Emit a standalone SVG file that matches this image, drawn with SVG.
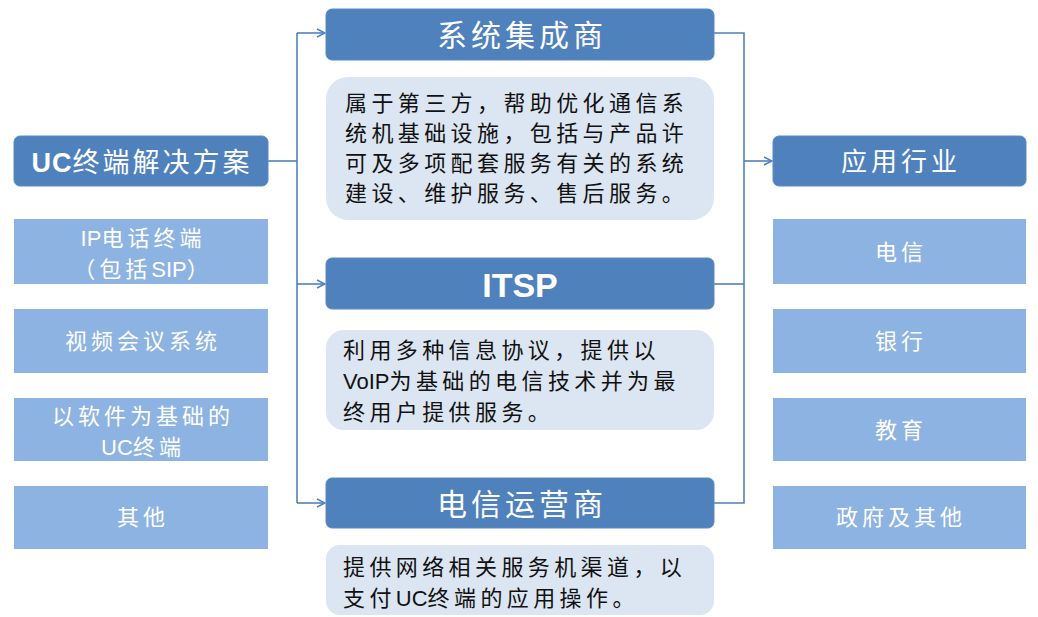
<svg xmlns="http://www.w3.org/2000/svg" width="1038" height="617" viewBox="0 0 1038 617">
<defs>
<style>
.hdr{fill:#4F81BD;stroke:#5A8AC6;stroke-width:1}
.lst{fill:#8DB3E2}
.dsc{fill:#DCE6F2}
.ht{font-family:"Liberation Sans","Noto Sans CJK SC",sans-serif;fill:#fff;text-anchor:middle}
.lt{font-family:"Liberation Sans","Noto Sans CJK SC",sans-serif;fill:#fff;font-size:22px;letter-spacing:4px;text-anchor:middle}
.dt{font-family:"Liberation Sans","Noto Sans CJK SC",sans-serif;fill:#111;font-size:22px;letter-spacing:4.4px}
.la{letter-spacing:0}
.ln{fill:none;stroke:#4F81BD;stroke-width:1.6}
</style>
<marker id="arr" viewBox="0 0 10 10" refX="9" refY="5" markerWidth="10" markerHeight="10" markerUnits="userSpaceOnUse" orient="auto">
<path d="M1,1 L9,5 L1,9" fill="none" stroke="#4F81BD" stroke-width="1.4"/>
</marker>
</defs>
<rect width="1038" height="617" fill="#fff"/>

<g id="connectors">
<path class="ln" d="M268,161 H297"/>
<path class="ln" d="M297,33 V503"/>
<path class="ln" d="M297,33 H325" marker-end="url(#arr)"/>
<path class="ln" d="M297,284 H325" marker-end="url(#arr)"/>
<path class="ln" d="M297,503 H325" marker-end="url(#arr)"/>
<path class="ln" d="M714,33 H744 V503 H714"/>
<path class="ln" d="M714,284 H744"/>
<path class="ln" d="M744,161 H772" marker-end="url(#arr)"/>
</g>

<g id="uc-solution">
<rect class="hdr" x="14" y="136" width="254" height="50" rx="6"/>
<text class="ht" x="142" y="172" font-size="27" letter-spacing="3"><tspan font-weight="bold" letter-spacing="1">UC</tspan>终端解决方案</text>
</g>
<g id="ip-phone">
<rect class="lst" x="14" y="219" width="254" height="65"/>
<text class="lt" x="143" y="246"><tspan class="la">IP</tspan>电话终端</text>
<text class="lt" x="143" y="277">（包括<tspan class="la">SIP</tspan>）</text>
</g>
<g id="video-conf">
<rect class="lst" x="14" y="309" width="254" height="64"/>
<text class="lt" x="143" y="349">视频会议系统</text>
</g>
<g id="soft-uc">
<rect class="lst" x="14" y="398" width="254" height="63"/>
<text class="lt" x="143" y="424">以软件为基础的</text>
<text class="lt" x="143" y="455"><tspan class="la">UC</tspan>终端</text>
</g>
<g id="other-left">
<rect class="lst" x="14" y="486" width="254" height="63"/>
<text class="lt" x="143" y="525">其他</text>
</g>

<g id="integrator">
<rect class="hdr" x="326" y="9" width="388" height="51" rx="6"/>
<text class="ht" x="522" y="46" font-size="30" letter-spacing="4">系统集成商</text>
</g>
<g id="integrator-desc">
<rect class="dsc" x="326" y="77" width="388" height="143" rx="22"/>
<text class="dt" x="345" y="111">属于第三方，帮助优化通信系</text>
<text class="dt" x="345" y="141">统机基础设施，包括与产品许</text>
<text class="dt" x="345" y="171">可及多项配套服务有关的系统</text>
<text class="dt" x="345" y="201">建设、维护服务、售后服务。</text>
</g>

<g id="itsp">
<rect class="hdr" x="326" y="258" width="388" height="51" rx="6"/>
<text class="ht" x="520" y="297" font-size="34" font-weight="bold">ITSP</text>
</g>
<g id="itsp-desc">
<rect class="dsc" x="326" y="330" width="388" height="100" rx="18"/>
<text class="dt" x="343" y="358">利用多种信息协议，提供以</text>
<text class="dt" x="343" y="389"><tspan class="la">VoIP</tspan>为基础的电信技术并为最</text>
<text class="dt" x="343" y="420">终用户提供服务。</text>
</g>

<g id="telecom-op">
<rect class="hdr" x="326" y="478" width="388" height="50" rx="6"/>
<text class="ht" x="522" y="515" font-size="30" letter-spacing="4">电信运营商</text>
</g>
<g id="telecom-op-desc">
<rect class="dsc" x="326" y="545" width="388" height="70" rx="14"/>
<text class="dt" x="343" y="575">提供网络相关服务机渠道，以</text>
<text class="dt" x="343" y="606">支付<tspan class="la">UC</tspan>终端的应用操作。</text>
</g>

<g id="industry">
<rect class="hdr" x="773" y="136" width="253" height="50" rx="6"/>
<text class="ht" x="901" y="171" font-size="26" letter-spacing="4">应用行业</text>
</g>
<g id="ind-telecom">
<rect class="lst" x="773" y="219" width="253" height="65"/>
<text class="lt" x="901" y="260">电信</text>
</g>
<g id="ind-bank">
<rect class="lst" x="773" y="309" width="253" height="64"/>
<text class="lt" x="901" y="349">银行</text>
</g>
<g id="ind-edu">
<rect class="lst" x="773" y="398" width="253" height="63"/>
<text class="lt" x="901" y="438">教育</text>
</g>
<g id="ind-gov">
<rect class="lst" x="773" y="486" width="253" height="63"/>
<text class="lt" x="901" y="525">政府及其他</text>
</g>
</svg>
